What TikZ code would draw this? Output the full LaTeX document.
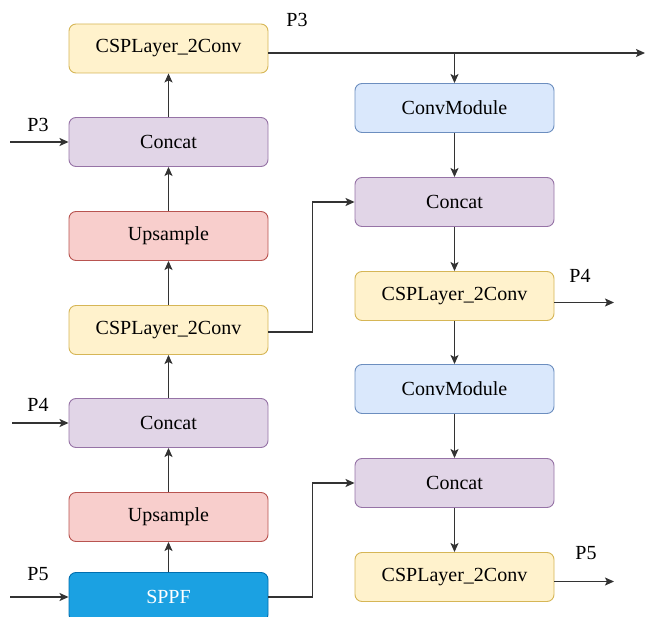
\documentclass[tikz,border=0pt]{standalone}
\usepackage{fontspec}
\setmainfont{Liberation Serif}
\usetikzlibrary{arrows.meta,positioning,calc}

\definecolor{yelF}{HTML}{FFF2CC}\definecolor{yelD}{HTML}{D6B656}
\definecolor{purF}{HTML}{E1D5E7}\definecolor{purD}{HTML}{9673A6}
\definecolor{redF}{HTML}{F8CECC}\definecolor{redD}{HTML}{B85450}
\definecolor{bluF}{HTML}{DAE8FC}\definecolor{bluD}{HTML}{6C8EBF}
\definecolor{sppF}{HTML}{1BA1E2}\definecolor{sppD}{HTML}{006EAF}
\definecolor{wire}{HTML}{333333}

\tikzset{
  block/.style={rectangle, rounded corners=7pt, minimum width=199pt,
    minimum height=49pt, line width=0.9pt, font=\rmfamily\fontsize{20}{22}\selectfont,
    inner sep=0pt},
  csp/.style={block, fill=yelF, draw=yelD},
  cat/.style={block, fill=purF, draw=purD},
  ups/.style={block, fill=redF, draw=redD},
  cmod/.style={block, fill=bluF, draw=bluD},
  sppf/.style={block, fill=sppF, draw=sppD, text=white},
  wirearrow/.style={draw=wire, line width=1.3pt, -{Stealth[length=9pt,width=8pt,inset=2pt]}},
  lbl/.style={font=\rmfamily\fontsize{20}{22}\selectfont, inner sep=0pt}
}

\begin{document}
\begin{tikzpicture}[x=1pt,y=-1pt]
\useasboundingbox (0,0) rectangle (645,617);
\clip (0,0) rectangle (645,617);

% left column (top-down path)
\node[csp]  (lcsp1) at (168.5,48.5) {CSPLayer\_2Conv};
\node[cat]  (lcat1) at (168.5,142)  {Concat};
\node[ups]  (lup1)  at (168.5,236)  {Upsample};
\node[csp]  (lcsp2) at (168.5,330)  {CSPLayer\_2Conv};
\node[cat]  (lcat2) at (168.5,423)  {Concat};
\node[ups]  (lup2)  at (168.5,517)  {Upsample};
\node[sppf] (sppf)  at (168.5,597)  {SPPF};

% right column (bottom-up path)
\node[cmod] (rcm1)  at (454.5,108)  {ConvModule};
\node[cat]  (rcat1) at (454.5,202)  {Concat};
\node[csp]  (rcsp1) at (454.5,296)  {CSPLayer\_2Conv};
\node[cmod] (rcm2)  at (454.5,389)  {ConvModule};
\node[cat]  (rcat2) at (454.5,483)  {Concat};
\node[csp]  (rcsp2) at (454.5,577)  {CSPLayer\_2Conv};

% vertical flow, left column
\draw[wirearrow] (sppf) -- (lup2);
\draw[wirearrow] (lup2) -- (lcat2);
\draw[wirearrow] (lcat2) -- (lcsp2);
\draw[wirearrow] (lcsp2) -- (lup1);
\draw[wirearrow] (lup1) -- (lcat1);
\draw[wirearrow] (lcat1) -- (lcsp1);

% vertical flow, right column
\draw[wirearrow] (rcm1) -- (rcat1);
\draw[wirearrow] (rcat1) -- (rcsp1);
\draw[wirearrow] (rcsp1) -- (rcm2);
\draw[wirearrow] (rcm2) -- (rcat2);
\draw[wirearrow] (rcat2) -- (rcsp2);

% inputs
\coordinate (inP3) at (10,142);
\coordinate (inP4) at (12,423);
\coordinate (inP5) at (10,597);
\draw[wirearrow] (inP3) -- (lcat1);
\draw[wirearrow] (inP4) -- (lcat2);
\draw[wirearrow] (inP5) -- (sppf);
\node[lbl] (tP3in) at (38,125) {P3};
\node[lbl] (tP4in) at (38,405) {P4};
\node[lbl] (tP5in) at (38,574) {P5};

% P3 output and branch to the bottom-up path
\coordinate (o3a) at ($(lcsp1.east)+(0,4.5)$);
\coordinate (o3end) at (645,53);
\coordinate (o3br) at (454.5,53);
\draw[wirearrow] (o3a) -- (o3end);
\draw[wirearrow] (o3br) -- (rcm1);
\node[lbl] (tP3out) at (297,20) {P3};

% lateral connections
\coordinate (lat1) at ($(lcsp2.east)+(0,2)$);
\draw[wirearrow] (lat1) -- ++(44,0) |- (rcat1.west);
\draw[wirearrow] (sppf.east) -- ++(44,0) |- (rcat2.west);

% P4 / P5 outputs
\coordinate (o4a) at ($(rcsp1.east)+(0,6.5)$);
\coordinate (o4end) at (614,302.5);
\draw[wirearrow] (o4a) -- (o4end);
\node[lbl] (tP4out) at (580,276) {P4};
\coordinate (o5a) at ($(rcsp2.east)+(0,4.5)$);
\coordinate (o5end) at (614,581.5);
\draw[wirearrow] (o5a) -- (o5end);
\node[lbl] (tP5out) at (586,553) {P5};
\end{tikzpicture}
\end{document}
